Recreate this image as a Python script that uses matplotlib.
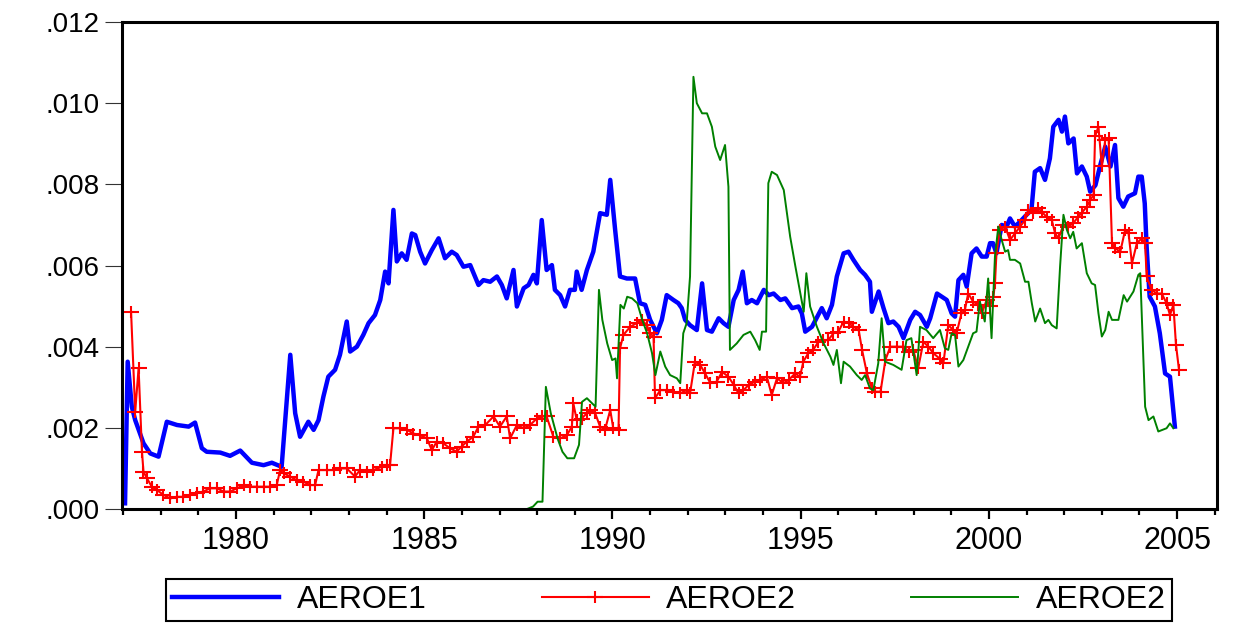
import matplotlib
matplotlib.use("Agg")
import matplotlib.pyplot as plt
from matplotlib.path import Path
from matplotlib.ticker import MultipleLocator, FuncFormatter
import numpy as np

plt.rcParams['font.family'] = ['Liberation Sans', 'DejaVu Sans']

# values, in units of 0.001
aeroe1_t = [1977.05, 1977.12, 1977.23, 1977.32, 1977.54, 1977.72, 1977.94, 1978.16, 1978.43, 1978.74,
            1978.91, 1979.09, 1979.22, 1979.58, 1979.84, 1980.11, 1980.42, 1980.73, 1980.95, 1981.21,
            1981.44, 1981.57, 1981.70, 1981.92, 1982.06, 1982.19, 1982.32, 1982.45, 1982.63, 1982.76,
            1982.94, 1983.03, 1983.21, 1983.38, 1983.52, 1983.69, 1983.83, 1983.96, 1984.05, 1984.18,
            1984.27, 1984.40, 1984.53, 1984.67, 1984.76, 1984.89, 1985.02, 1985.20, 1985.38, 1985.55,
            1985.73, 1985.86, 1986.04, 1986.22, 1986.44, 1986.57, 1986.75, 1986.93, 1987.06, 1987.19,
            1987.37, 1987.46, 1987.64, 1987.77, 1987.90, 1987.99, 1988.12, 1988.25, 1988.39, 1988.47,
            1988.61, 1988.74, 1988.87, 1989.00, 1989.05, 1989.18, 1989.32, 1989.49, 1989.67, 1989.85,
            1989.94, 1990.07, 1990.20, 1990.38, 1990.60, 1990.73, 1990.87, 1991.00, 1991.18, 1991.31,
            1991.44, 1991.62, 1991.75, 1991.84, 1991.93, 1992.06, 1992.24, 1992.38, 1992.51, 1992.64,
            1992.82, 1992.95, 1993.08, 1993.22, 1993.35, 1993.46, 1993.57, 1993.70, 1993.84, 1994.02,
            1994.15, 1994.28, 1994.46, 1994.59, 1994.77, 1994.94, 1995.03, 1995.12, 1995.30, 1995.44,
            1995.56, 1995.69, 1995.83, 1995.96, 1996.14, 1996.27, 1996.40, 1996.58, 1996.71, 1996.84,
            1996.89, 1997.07, 1997.20, 1997.33, 1997.46, 1997.60, 1997.73, 1997.91, 1998.04, 1998.17,
            1998.35, 1998.44, 1998.62, 1998.88, 1999.01, 1999.10, 1999.19, 1999.32, 1999.41, 1999.54,
            1999.67, 1999.81, 1999.94, 2000.03, 2000.11, 2000.20, 2000.34, 2000.47, 2000.56, 2000.69,
            2000.83, 2001.00, 2001.13, 2001.22, 2001.36, 2001.49, 2001.62, 2001.71, 2001.85, 2001.94,
            2002.02, 2002.11, 2002.25, 2002.34, 2002.47, 2002.60, 2002.69, 2002.83, 2002.96, 2003.09,
            2003.23, 2003.35, 2003.44, 2003.57, 2003.70, 2003.88, 2003.97, 2004.06, 2004.14, 2004.19,
            2004.27, 2004.41, 2004.54, 2004.68, 2004.81, 2004.94]
aeroe1_v = [0.14, 3.63, 2.52, 2.19, 1.62, 1.37, 1.29, 2.15, 2.07, 2.03,
            2.13, 1.50, 1.41, 1.39, 1.31, 1.44, 1.14, 1.08, 1.14, 1.04,
            3.80, 2.36, 1.78, 2.15, 1.95, 2.19, 2.77, 3.26, 3.43, 3.80,
            4.62, 3.88, 4.00, 4.29, 4.58, 4.78, 5.15, 5.85, 5.56, 7.37,
            6.10, 6.30, 6.14, 6.79, 6.75, 6.34, 6.05, 6.38, 6.67, 6.18,
            6.34, 6.26, 5.97, 6.01, 5.52, 5.64, 5.60, 5.73, 5.52, 5.19,
            5.89, 4.99, 5.44, 5.52, 5.77, 5.56, 7.12, 5.89, 6.01, 5.40,
            5.27, 4.99, 5.40, 5.40, 5.85, 5.40, 5.89, 6.34, 7.29, 7.25,
            8.11, 6.88, 5.73, 5.68, 5.68, 5.07, 5.03, 4.66, 4.33, 4.66,
            5.27, 5.15, 5.07, 4.95, 4.66, 4.53, 4.41, 5.56, 4.41, 4.37,
            4.70, 4.58, 4.49, 5.15, 5.40, 5.85, 5.07, 5.15, 5.07, 5.40,
            5.27, 5.31, 5.15, 5.19, 4.95, 4.99, 4.82, 4.37, 4.49, 4.74,
            4.95, 4.70, 5.03, 5.73, 6.30, 6.34, 6.14, 5.89, 5.77, 5.60,
            4.86, 5.36, 4.95, 4.58, 4.62, 4.49, 4.21, 4.66, 4.86, 4.78,
            4.49, 4.70, 5.31, 5.15, 4.82, 4.74, 5.64, 5.77, 5.48, 6.30,
            6.42, 6.22, 6.22, 6.55, 6.55, 6.30, 7.00, 6.96, 7.16, 6.96,
            7.08, 7.25, 7.37, 8.31, 8.40, 8.11, 8.64, 9.42, 9.59, 9.30,
            9.67, 9.01, 9.13, 8.27, 8.44, 8.19, 7.82, 7.98, 8.48, 8.93,
            8.44, 8.97, 7.66, 7.45, 7.70, 7.78, 8.19, 8.19, 7.53, 6.46,
            5.23, 4.99, 4.33, 3.34, 3.26, 2.03]

aeroe2_t = [1977.21, 1977.32, 1977.41, 1977.50, 1977.54, 1977.63, 1977.76, 1977.89, 1978.07, 1978.25,
            1978.43, 1978.60, 1978.78, 1978.96, 1979.13, 1979.31, 1979.49, 1979.67, 1979.84, 1980.02,
            1980.20, 1980.37, 1980.55, 1980.73, 1980.90, 1981.08, 1981.17, 1981.26, 1981.44, 1981.61,
            1981.79, 1981.97, 1982.10, 1982.19, 1982.41, 1982.59, 1982.76, 1982.94, 1983.16, 1983.29,
            1983.47, 1983.65, 1983.87, 1984.00, 1984.09, 1984.18, 1984.36, 1984.54, 1984.71, 1984.89,
            1985.07, 1985.20, 1985.33, 1985.50, 1985.68, 1985.86, 1985.99, 1986.13, 1986.30, 1986.44,
            1986.62, 1986.84, 1987.01, 1987.19, 1987.28, 1987.46, 1987.64, 1987.81, 1987.99, 1988.12,
            1988.25, 1988.43, 1988.61, 1988.79, 1988.92, 1988.96, 1989.05, 1989.18, 1989.32, 1989.40,
            1989.54, 1989.67, 1989.80, 1989.94, 1990.02, 1990.16, 1990.20, 1990.29, 1990.47, 1990.64,
            1990.78, 1990.91, 1991.00, 1991.09, 1991.13, 1991.27, 1991.44, 1991.62, 1991.80, 1991.97,
            1992.06, 1992.19, 1992.33, 1992.46, 1992.60, 1992.77, 1992.91, 1993.08, 1993.22, 1993.35,
            1993.48, 1993.62, 1993.79, 1993.92, 1994.10, 1994.23, 1994.37, 1994.54, 1994.68, 1994.85,
            1994.98, 1995.07, 1995.20, 1995.33, 1995.47, 1995.60, 1995.73, 1995.87, 1996.00, 1996.14,
            1996.27, 1996.40, 1996.54, 1996.63, 1996.76, 1996.89, 1996.98, 1997.12, 1997.25, 1997.38,
            1997.56, 1997.73, 1997.87, 1997.99, 1998.12, 1998.26, 1998.39, 1998.52, 1998.70, 1998.79,
            1998.92, 1999.05, 1999.14, 1999.27, 1999.36, 1999.45, 1999.58, 1999.72, 1999.81, 1999.94,
            2000.03, 2000.12, 2000.16, 2000.20, 2000.29, 2000.43, 2000.56, 2000.69, 2000.83, 2000.96,
            2001.05, 2001.18, 2001.31, 2001.40, 2001.53, 2001.67, 2001.76, 2001.85, 2001.98, 2002.11,
            2002.24, 2002.37, 2002.46, 2002.60, 2002.69, 2002.78, 2002.82, 2002.91, 2003.00, 2003.09,
            2003.18, 2003.27, 2003.36, 2003.49, 2003.62, 2003.71, 2003.80, 2003.93, 2004.06, 2004.15,
            2004.19, 2004.32, 2004.46, 2004.59, 2004.72, 2004.81, 2004.90, 2004.97, 2005.05]
aeroe2_v = [4.86, 2.40, 3.47, 1.41, 0.92, 0.76, 0.55, 0.47, 0.35, 0.26,
            0.30, 0.30, 0.35, 0.39, 0.43, 0.51, 0.51, 0.43, 0.43, 0.51,
            0.59, 0.55, 0.55, 0.55, 0.55, 0.59, 0.96, 0.88, 0.80, 0.71,
            0.67, 0.59, 0.59, 0.96, 0.96, 0.96, 1.00, 1.00, 0.80, 0.96,
            0.92, 0.96, 1.04, 1.08, 1.08, 1.99, 1.99, 1.95, 1.86, 1.82,
            1.74, 1.45, 1.66, 1.62, 1.50, 1.41, 1.54, 1.66, 1.78, 2.03,
            2.07, 2.28, 2.03, 2.28, 1.74, 2.07, 1.99, 2.07, 2.23, 2.28,
            2.28, 1.78, 1.74, 1.82, 2.03, 2.60, 2.19, 2.23, 2.36, 2.44,
            2.36, 2.03, 1.95, 2.44, 1.99, 1.95, 3.96, 4.29, 4.49, 4.58,
            4.66, 4.53, 4.33, 4.25, 2.73, 2.93, 2.93, 2.89, 2.85, 2.93,
            2.85, 3.63, 3.55, 3.34, 3.10, 3.14, 3.38, 3.26, 3.06, 2.85,
            2.93, 3.06, 3.14, 3.18, 3.26, 2.81, 3.22, 3.10, 3.18, 3.34,
            3.26, 3.63, 3.84, 3.92, 4.12, 4.16, 4.16, 4.33, 4.37, 4.62,
            4.58, 4.49, 4.41, 3.92, 3.34, 2.97, 2.89, 2.89, 3.67, 4.00,
            4.00, 4.00, 3.88, 3.92, 3.47, 4.12, 4.00, 3.84, 3.70, 3.59,
            4.53, 4.41, 4.33, 4.82, 4.90, 5.31, 5.11, 5.03, 4.82, 5.15,
            4.99, 5.23, 5.56, 6.30, 6.88, 6.96, 6.63, 6.79, 6.96, 7.12,
            7.37, 7.29, 7.41, 7.33, 7.20, 7.12, 6.79, 6.67, 7.00, 6.96,
            7.04, 7.20, 7.29, 7.45, 7.61, 7.74, 9.18, 9.42, 8.44, 9.09,
            9.13, 6.55, 6.42, 6.34, 6.88, 6.79, 6.05, 6.55, 6.67, 6.55,
            5.73, 5.40, 5.31, 5.31, 5.07, 4.78, 5.03, 4.04, 3.43]

aeroe3_t = [1987.73, 1987.89, 1988.01, 1988.14, 1988.23, 1988.36, 1988.54, 1988.67, 1988.80, 1988.98,
            1989.11, 1989.19, 1989.32, 1989.46, 1989.55, 1989.64, 1989.73, 1989.86, 1989.99, 1990.08,
            1990.12, 1990.21, 1990.30, 1990.39, 1990.52, 1990.66, 1990.79, 1990.92, 1991.05, 1991.14,
            1991.27, 1991.40, 1991.53, 1991.71, 1991.80, 1991.88, 1991.97, 1992.06, 1992.15, 1992.24,
            1992.38, 1992.51, 1992.64, 1992.73, 1992.86, 1992.99, 1993.08, 1993.12, 1993.30, 1993.48,
            1993.66, 1993.79, 1993.91, 1993.97, 1994.08, 1994.14, 1994.23, 1994.37, 1994.55, 1994.72,
            1994.86, 1994.99, 1995.08, 1995.15, 1995.25, 1995.43, 1995.61, 1995.79, 1995.87, 1995.96,
            1996.07, 1996.14, 1996.31, 1996.49, 1996.62, 1996.71, 1996.84, 1996.93, 1997.06, 1997.15,
            1997.24, 1997.46, 1997.68, 1997.81, 1997.94, 1998.08, 1998.17, 1998.34, 1998.52, 1998.70,
            1998.83, 1998.92, 1999.01, 1999.10, 1999.19, 1999.32, 1999.45, 1999.58, 1999.67, 1999.76,
            1999.89, 1999.98, 2000.07, 2000.16, 2000.25, 2000.34, 2000.43, 2000.51, 2000.56, 2000.69,
            2000.83, 2000.96, 2001.05, 2001.14, 2001.23, 2001.36, 2001.49, 2001.58, 2001.67, 2001.80,
            2001.89, 2001.98, 2002.07, 2002.16, 2002.24, 2002.33, 2002.47, 2002.60, 2002.73, 2002.82,
            2002.91, 2003.00, 2003.09, 2003.18, 2003.27, 2003.44, 2003.58, 2003.67, 2003.84, 2003.97,
            2004.02, 2004.15, 2004.24, 2004.37, 2004.50, 2004.72, 2004.81, 2004.90]
aeroe3_v = [0.00, 0.06, 0.18, 0.18, 3.01, 2.36, 1.74, 1.41, 1.25, 1.25,
            1.58, 2.64, 2.73, 2.60, 2.52, 5.40, 4.66, 4.08, 3.67, 3.71,
            3.22, 5.03, 4.94, 5.23, 5.19, 5.07, 4.66, 4.33, 3.84, 3.30,
            3.88, 3.51, 3.30, 3.22, 3.10, 4.33, 4.58, 5.73, 10.65, 10.00,
            9.75, 9.75, 9.42, 8.93, 8.60, 8.97, 7.94, 3.92, 4.08, 4.29,
            4.37, 4.16, 3.92, 4.37, 4.37, 8.03, 8.31, 8.23, 7.86, 6.71,
            5.97, 5.31, 4.86, 5.81, 4.99, 4.49, 4.08, 3.75, 3.55, 3.92,
            3.10, 3.63, 3.51, 3.30, 3.18, 3.30, 2.97, 2.93, 3.59, 4.70,
            3.63, 3.55, 3.43, 4.16, 4.21, 3.30, 4.49, 4.41, 4.21, 4.41,
            3.96, 3.92, 4.33, 4.29, 3.51, 3.67, 4.00, 4.33, 4.37, 5.11,
            4.62, 5.68, 4.21, 6.22, 6.96, 6.63, 6.34, 6.38, 6.14, 6.14,
            6.05, 5.60, 5.60, 5.07, 4.62, 4.94, 4.58, 4.66, 4.53, 4.45,
            5.97, 7.25, 6.88, 6.67, 6.83, 6.42, 6.55, 5.81, 5.56, 5.52,
            4.82, 4.25, 4.41, 4.86, 4.66, 4.66, 5.27, 5.11, 5.36, 5.77,
            5.81, 2.52, 2.19, 2.28, 1.91, 1.99, 2.11, 1.99]

labels = ["AEROE1", "AEROE2", "AEROE2"]

# '+' marker, wider than tall as in the original
plus = Path([(-1, 0), (1, 0), (0, -0.7), (0, 0.7)],
            [Path.MOVETO, Path.LINETO, Path.MOVETO, Path.LINETO])

fig = plt.figure(figsize=(12.49, 6.24), dpi=100)
ax = fig.add_axes([0.0977, 0.1843, 0.8767, 0.7804])

ax.plot(aeroe1_t, np.array(aeroe1_v) / 1000, color="#0000ff", lw=3.2, label=labels[0])
ax.plot(aeroe2_t, np.array(aeroe2_v) / 1000, color="#ff0000", lw=1.5, marker=plus,
        markersize=12, markeredgewidth=1.5, label=labels[1])
ax.plot(aeroe3_t, np.array(aeroe3_v) / 1000, color="#008000", lw=1.4, label=labels[2])

ax.set_xlim(1976.97, 2006.06)
ax.set_ylim(0, 0.012)

ax.xaxis.set_major_locator(MultipleLocator(5))
ax.xaxis.set_minor_locator(MultipleLocator(1))
ax.yaxis.set_major_locator(MultipleLocator(0.002))
ax.yaxis.set_major_formatter(FuncFormatter(lambda v, p: f"{v:.3f}".lstrip("0")))
ax.xaxis.set_major_formatter(FuncFormatter(lambda v, p: f"{int(round(v))}"))

ax.tick_params(axis="x", which="major", direction="out", length=7, width=1.6, labelsize=22, pad=5)
ax.tick_params(axis="x", which="minor", direction="out", length=4.5, width=1.6)
ax.tick_params(axis="y", which="major", direction="out", length=12, width=0.8, labelsize=20,
               pad=4, color="#333333")

for s in ax.spines.values():
    s.set_linewidth(2.2)

fig.legend(loc="center", bbox_to_anchor=(0.5356, 0.0385), ncol=3, fontsize=23,
           frameon=True, fancybox=False, edgecolor="black", framealpha=1,
           handlelength=3.35, handletextpad=0.55, columnspacing=3.6, borderpad=0.2,
           numpoints=1)
fig.legends[0].get_frame().set_linewidth(1.5)

plt.savefig("out.png", dpi=100)
plt.close("all")
